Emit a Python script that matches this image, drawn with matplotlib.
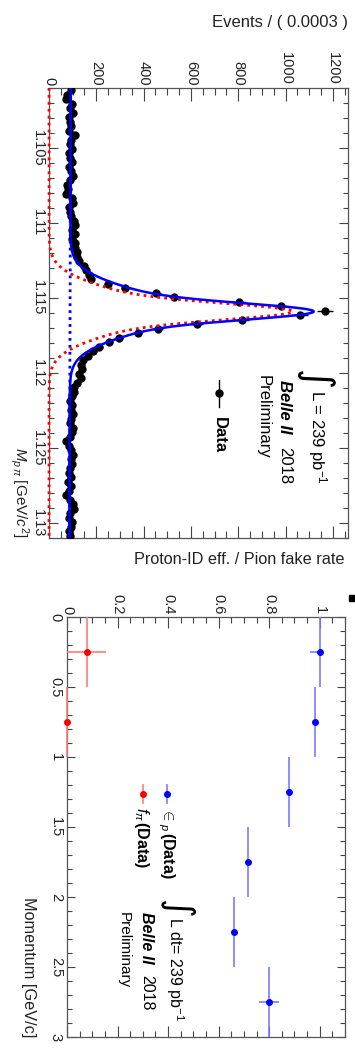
import numpy as np
import matplotlib
matplotlib.use('Agg')
import matplotlib.pyplot as plt
import matplotlib.patches as patches
from matplotlib.ticker import MultipleLocator, FuncFormatter

plt.rcParams['font.family'] = ['Liberation Sans', 'DejaVu Sans']
plt.rcParams['mathtext.fontset'] = 'custom'
plt.rcParams['mathtext.rm'] = 'Liberation Sans'
plt.rcParams['mathtext.it'] = 'Liberation Sans:italic'
plt.rcParams['mathtext.bf'] = 'Liberation Sans:bold'

W, H = 355, 1051

# M(p pi) spectrum: 100 bins of 0.0003 GeV starting at 1.101
mass_lo = 1.101
bin_w = 0.0003
counts = [93, 78, 72, 96, 88, 100, 84, 90, 95, 86,
          108, 92, 88, 96, 84, 90, 98, 86, 94, 100,
          88, 74, 80, 72, 96, 100, 84, 88, 94, 104,
          108, 96, 112, 98, 112, 110, 118, 120, 128, 149,
          156, 170, 178, 248, 323, 453, 530, 803, 980, 1166,
          1063, 817, 627, 460, 375, 297, 255, 213, 188, 165,
          142, 135, 140, 128, 135, 120, 107, 104, 96, 90,
          98, 92, 100, 94, 88, 102, 96, 90, 72, 86,
          94, 100, 92, 96, 88, 84, 92, 80, 94, 86,
          72, 90, 100, 104, 88, 84, 98, 94, 86, 88]

# fit result: double gaussian signal + linear background
sig_mean = 1.1159
sig_amp = [570, 460]
sig_width = [0.0005, 0.0014]
bkg_ends = [92, 86]

# proton-ID efficiency / pion fake rate vs momentum
mom_bins = [0.25, 0.75, 1.25, 1.75, 2.25, 2.75]
mom_half = 0.25
eff_p = [1.0, 0.98, 0.878, 0.715, 0.66, 0.80]
eff_lo = [0.04, 0.01, 0.01, 0.01, 0.01, 0.04]
eff_hi = [0.0, 0.01, 0.01, 0.01, 0.01, 0.04]
fake_mom = [0.25, 0.75]
fake_pi = [0.078, 0.0]
fake_err = [0.077, 0.0]


def fx(x):
    return x / W


def fy(y):
    return 1 - y / H


def root_style(ax, xmaj, xmin, ymaj, ymin, xlen, ylen):
    ax.xaxis.set_major_locator(MultipleLocator(xmaj))
    ax.xaxis.set_minor_locator(MultipleLocator(xmin))
    ax.yaxis.set_major_locator(MultipleLocator(ymaj))
    ax.yaxis.set_minor_locator(MultipleLocator(ymin))
    fmt = FuncFormatter(lambda v, p: '%g' % round(v, 4))
    ax.xaxis.set_major_formatter(fmt)
    ax.yaxis.set_major_formatter(fmt)
    ax.xaxis.tick_top()
    ax.tick_params(which='both', direction='in', top=True, bottom=True,
                   left=True, right=True, labeltop=True, labelbottom=False,
                   labelleft=True, labelsize=10.5, labelcolor='#222222',
                   color='#444444', width=0.8)
    ax.tick_params(axis='x', which='major', length=xlen, pad=2, labelrotation=270)
    ax.tick_params(axis='x', which='minor', length=xlen * 0.55)
    ax.tick_params(axis='y', which='major', length=ylen, pad=3, labelrotation=270)
    ax.tick_params(axis='y', which='minor', length=ylen * 0.6)
    for lbl in ax.get_yticklabels():
        lbl.set_va('center')
    for s in ax.spines.values():
        s.set_color('#555555')
        s.set_linewidth(0.9)


fig = plt.figure(figsize=(W / 100, H / 100), dpi=100)

# ---------------- top: mass fit ----------------
ax1 = fig.add_axes([fx(49), fy(538), fx(348) - fx(49), fy(88) - fy(538)])
n_bins = len(counts)
centers = mass_lo + bin_w * (np.arange(n_bins) + 0.5)
cnt = np.array(counts, dtype=float)
mass_hi = mass_lo + bin_w * n_bins

m = np.linspace(mass_lo, mass_hi, 1200)
sig = sum(a * np.exp(-0.5 * ((m - sig_mean) / s) ** 2) for a, s in zip(sig_amp, sig_width))
bkg = np.interp(m, [mass_lo, mass_hi], bkg_ends)

ax1.errorbar(cnt, centers, xerr=np.sqrt(cnt), fmt='o', color='black', ms=5,
             elinewidth=1, capsize=0, zorder=3)
ax1.plot(bkg, m, color='blue', lw=2, ls=(0, (1, 1.5)), zorder=4)
ax1.plot(sig, m, color='red', lw=2, ls=(0, (1, 1.5)), zorder=4, clip_on=False)
ax1.plot(sig + bkg, m, color='blue', lw=1.8, zorder=5)

ax1.set_xlim(0, 1264)
ax1.set_ylim(mass_hi, mass_lo)
root_style(ax1, 200, 50, 0.005, 0.001, 9, 6.5)

fig.text(fx(348), fy(23), "Events / ( 0.0003 )", ha='right', va='center',
         fontsize=12, color='#222222')
fig.text(fx(19), fy(538), r"$M_{p\,\pi}$ [GeV/$c^2$]", rotation=270,
         ha='center', va='bottom', fontsize=11, color='#222222')

fig.text(fx(314), fy(380), "\u222b", family='DejaVu Sans', rotation=270,
         ha='center', va='center', fontsize=28)
fig.text(fx(317), fy(390), r"L = 239 pb$^{-1}$", rotation=270,
         ha='center', va='top', fontsize=12)
fig.text(fx(285), fy(380), "Belle II", rotation=270, ha='center', va='top',
         fontsize=12, fontweight='bold', fontstyle='italic')
fig.text(fx(285), fy(447), "2018", rotation=270, ha='center', va='top', fontsize=12)
fig.text(fx(263), fy(375), "Preliminary", rotation=270, ha='center', va='top',
         fontsize=12)
fig.lines.append(plt.Line2D([fx(219), fx(219)], [fy(380), fy(407)],
                            transform=fig.transFigure, color='black', lw=1))
fig.lines.append(plt.Line2D([fx(219)], [fy(393)], transform=fig.transFigure,
                            marker='o', color='black', ms=5))
fig.text(fx(219), fy(417), "Data", rotation=270, ha='center', va='top',
         fontsize=12, fontweight='bold')

# ---------------- bottom: PID performance ----------------
ax2 = fig.add_axes([fx(67), fy(1037), fx(345) - fx(67), fy(617) - fy(1037)])
ax2.errorbar(eff_p, mom_bins, xerr=[eff_lo, eff_hi], yerr=mom_half, fmt='o',
             color='blue', ecolor='#7a7aff', ms=4, elinewidth=1.2, capsize=0,
             clip_on=False, zorder=3)
ax2.errorbar(fake_pi, fake_mom, xerr=fake_err, yerr=mom_half, fmt='o',
             color='red', ecolor='#ff7a7a', ms=4, elinewidth=1.2, capsize=0,
             clip_on=False, zorder=3)
ax2.set_xlim(0, 1.1)
ax2.set_ylim(3, 0)
root_style(ax2, 0.2, 0.05, 0.5, 0.1, 8, 6)

fig.text(fx(345), fy(560), "Proton-ID eff. / Pion fake rate", ha='right',
         va='center', fontsize=11.7, color='#222222')
fig.text(fx(28), fy(1037), "Momentum [GeV/c]", rotation=270, ha='center',
         va='bottom', fontsize=11.7, color='#222222')

fig.text(fx(176), fy(909), "\u222b", family='DejaVu Sans', rotation=270,
         ha='center', va='center', fontsize=26)
fig.text(fx(175), fy(917), r"L dt= 239 pb$^{-1}$", rotation=270,
         ha='center', va='top', fontsize=11.5)
fig.text(fx(147), fy(912), "Belle II", rotation=270, ha='center', va='top',
         fontsize=11.5, fontweight='bold', fontstyle='italic')
fig.text(fx(147), fy(975), "2018", rotation=270, ha='center', va='top', fontsize=11.5)
fig.text(fx(124), fy(912), "Preliminary", rotation=270, ha='center', va='top',
         fontsize=11)

for xc, col, ecol in [(167, 'blue', '#7a7aff'), (143, 'red', '#ff7a7a')]:
    fig.lines.append(plt.Line2D([fx(xc), fx(xc)], [fy(785), fy(803)],
                                transform=fig.transFigure, color=ecol, lw=1.2))
    fig.lines.append(plt.Line2D([fx(xc)], [fy(794)], transform=fig.transFigure,
                                marker='o', color=col, ms=4))
fig.text(fx(166), fy(807), r"$\in_{\mathit{p}}\,\mathbf{(Data)}$", rotation=270,
         ha='center', va='top', fontsize=11.5)
fig.text(fx(141), fy(807), r"$\mathit{f}_{\pi}\,\mathbf{(Data)}$", rotation=270,
         ha='center', va='top', fontsize=11.5)

fig.patches.append(patches.Rectangle((fx(349), fy(601)), fx(5), 6 / H,
                                     transform=fig.transFigure, color='black'))

fig.savefig('out.png', dpi=100)
